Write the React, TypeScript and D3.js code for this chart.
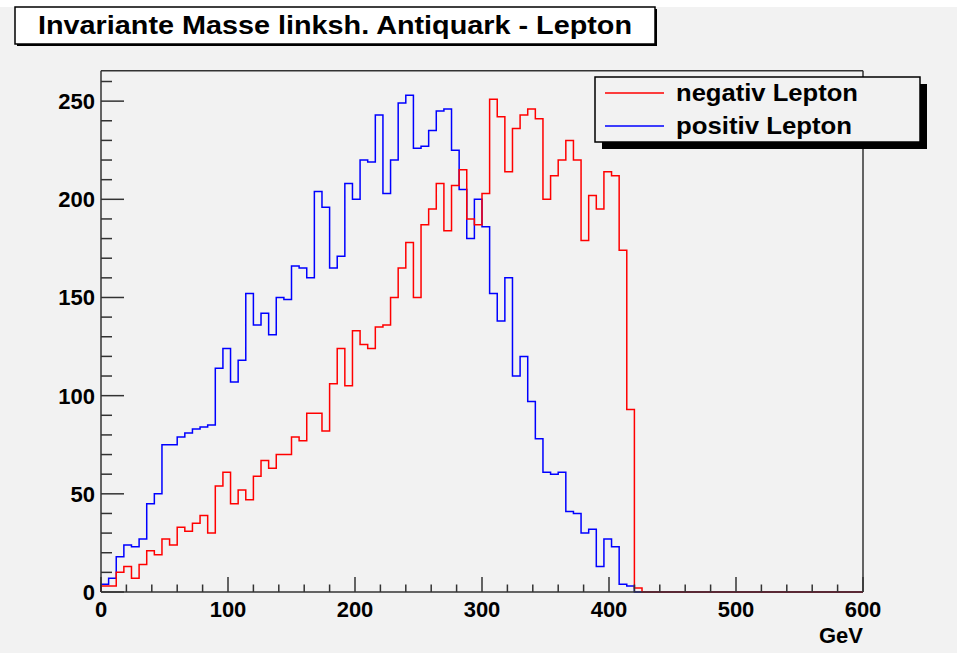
import React from 'react';
import * as d3 from 'd3';

const binWidth = 6;
const negativLepton = [
  3, 3, 10, 13, 7, 14, 21, 19, 27, 24,
  33, 31, 35, 39, 30, 54, 61, 45, 52, 47,
  59, 67, 63, 70, 70, 79, 77, 91, 91, 82,
  106, 124, 105, 133, 126, 124, 135, 136, 150, 165,
  178, 150, 187, 195, 208, 184, 207, 215, 190, 187,
  203, 251, 242, 214, 236, 243, 246, 241, 200, 212,
  220, 230, 220, 179, 202, 195, 214, 212, 174, 93,
  2, 0, 0, 0, 0, 0, 0, 0, 0, 0,
  0, 0, 0, 0, 0, 0, 0, 0, 0, 0,
  0, 0, 0, 0, 0, 0, 0, 0, 0, 0,
];
const positivLepton = [
  4, 7, 18, 24, 23, 27, 45, 50, 75, 75,
  79, 81, 83, 84, 85, 114, 124, 107, 118, 152,
  136, 142, 131, 150, 149, 166, 165, 160, 204, 196,
  165, 171, 208, 200, 220, 219, 243, 203, 220, 249,
  253, 226, 227, 235, 245, 246, 225, 205, 180, 200,
  186, 152, 138, 160, 110, 120, 97, 78, 61, 60,
  61, 41, 40, 30, 32, 13, 27, 23, 4, 3,
  0, 0, 0, 0, 0, 0, 0, 0, 0, 0,
  0, 0, 0, 0, 0, 0, 0, 0, 0, 0,
  0, 0, 0, 0, 0, 0, 0, 0, 0, 0,
];
const xTicks = [0, 100, 200, 300, 400, 500, 600];
const yTicks = [0, 50, 100, 150, 200, 250];
const legendLabels = ['negativ Lepton', 'positiv Lepton'];
const titleText = 'Invariante Masse linksh. Antiquark - Lepton';
const xAxisTitle = 'GeV';

const FONT = '"Liberation Sans", Arial, Helvetica, sans-serif';

export default function App() {
  const W = 957, H = 653;
  const x = d3.scaleLinear().domain([0, 600]).range([101, 863]);
  const y = d3.scaleLinear().domain([0, 265.5]).range([592, 70.7]);
  const line = d3
    .line<[number, number]>()
    .x((d) => x(d[0]))
    .y((d) => y(d[1]))
    .curve(d3.curveStepAfter);
  const pts = (vals: number[]) => {
    const p: [number, number][] = [[0, 0]];
    vals.forEach((v, i) => p.push([i * binWidth, v]));
    p.push([vals.length * binWidth, vals[vals.length - 1]]);
    p.push([vals.length * binWidth, 0]);
    return p;
  };
  const xMinor = d3.range(0, 601, 20).filter((v) => v % 100 !== 0);
  const yMinor = d3.range(0, 266, 10).filter((v) => v % 50 !== 0);
  const axisColor = '#333';
  const legendLens = [182, 176];

  return (
    <svg width={W} height={H} style={{ position: 'absolute', left: 0, top: 0 }}>
      <rect x={0} y={0} width={W} height={H} fill="#ffffff" />
      <rect x={0} y={7} width={W} height={H - 7} fill="#f2f2f2" />
      {/* frame */}
      <line x1={x(0)} x2={x(600)} y1={y(265.5)} y2={y(265.5)} stroke={axisColor} strokeWidth={1.5} />
      <line x1={x(600)} x2={x(600)} y1={y(265.5)} y2={y(0)} stroke={axisColor} strokeWidth={1.5} />
      {/* histograms */}
      <path d={line(pts(positivLepton)) || ''} fill="none" stroke="#0000ff" strokeWidth={1.5} />
      <path d={line(pts(negativLepton)) || ''} fill="none" stroke="#ff0000" strokeWidth={1.5} />
      {/* axes */}
      <line x1={x(0)} x2={x(600)} y1={y(0)} y2={y(0)} stroke={axisColor} strokeWidth={1.5} />
      <line x1={x(0)} x2={x(0)} y1={y(0)} y2={y(265.5)} stroke={axisColor} strokeWidth={1.5} />
      {xTicks.map((t) => (
        <g key={'xt' + t}>
          <line x1={x(t)} x2={x(t)} y1={y(0)} y2={y(0) - 15} stroke={axisColor} strokeWidth={1.5} />
          <text x={x(t)} y={616.5} textAnchor="middle" fontFamily={FONT} fontWeight="bold" fontSize={22} fill="#000">
            {t}
          </text>
        </g>
      ))}
      {xMinor.map((t) => (
        <line key={'xm' + t} x1={x(t)} x2={x(t)} y1={y(0)} y2={y(0) - 7.5} stroke={axisColor} strokeWidth={1.5} />
      ))}
      {yTicks.map((t) => (
        <g key={'yt' + t}>
          <line x1={x(0)} x2={x(0) + 23} y1={y(t)} y2={y(t)} stroke={axisColor} strokeWidth={1.5} />
          <text x={95} y={y(t) + 8} textAnchor="end" fontFamily={FONT} fontWeight="bold" fontSize={22} fill="#000">
            {t}
          </text>
        </g>
      ))}
      {yMinor.map((t) => (
        <line key={'ym' + t} x1={x(0)} x2={x(0) + 11} y1={y(t)} y2={y(t)} stroke={axisColor} strokeWidth={1.5} />
      ))}
      <text x={863} y={643} textAnchor="end" fontFamily={FONT} fontWeight="bold" fontSize={22} fill="#000">
        {xAxisTitle}
      </text>
      {/* title */}
      <rect x={17} y={9} width={640} height={37} fill="#000" />
      <rect x={15} y={7} width={640} height={37} fill="#ffffff" stroke="#000" strokeWidth={1.5} />
      <text x={335} y={34} textAnchor="middle" fontFamily={FONT} fontWeight="bold" fontSize={26} fill="#000" textLength={594} lengthAdjust="spacingAndGlyphs">
        {titleText}
      </text>
      {/* legend */}
      <rect x={602} y={84} width={325} height={65} fill="#000" />
      <rect x={595} y={77} width={325} height={65} fill="#f2f2f2" stroke="#000" strokeWidth={1.5} />
      {legendLabels.map((lab, i) => (
        <g key={lab}>
          <line x1={605} x2={664} y1={93 + i * 33} y2={93 + i * 33} stroke={i === 0 ? '#ff0000' : '#0000ff'} strokeWidth={1.5} />
          <text x={676} y={93 + i * 33 + 8} fontFamily={FONT} fontWeight="bold" fontSize={24} fill="#000" textLength={legendLens[i]} lengthAdjust="spacingAndGlyphs">
            {lab}
          </text>
        </g>
      ))}
    </svg>
  );
}
